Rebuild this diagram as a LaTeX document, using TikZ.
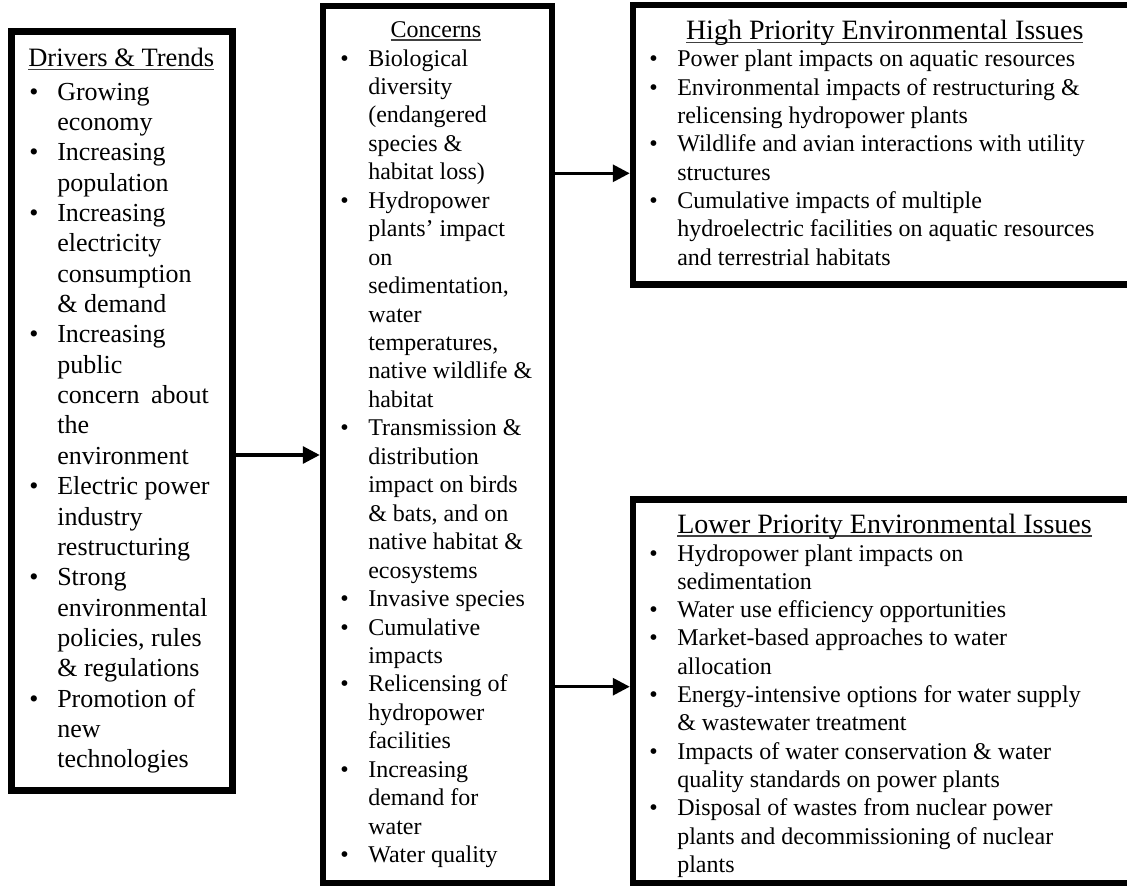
\documentclass[tikz,border=0pt]{standalone}
\usepackage{fontspec}
\setmainfont{Liberation Serif}
\usetikzlibrary{arrows.meta}
\newsavebox{\ulsave}
\newcommand{\ulhead}[1]{\sbox{\ulsave}{#1}\rlap{\color{black!75}\rule[-3.6pt]{\wd\ulsave}{1.5pt}}\usebox{\ulsave}}
\newcommand{\bl}{\makebox[28pt][l]{•}}
\newcommand{\fA}{\fontsize{26pt}{30.36pt}\selectfont}
\newcommand{\fAh}{\fontsize{26.5pt}{30pt}\selectfont}
\newcommand{\fB}{\fontsize{24pt}{28.45pt}\selectfont}
\newcommand{\fC}{\fontsize{24pt}{28.33pt}\selectfont}
\newcommand{\fH}{\fontsize{28pt}{32pt}\selectfont}
\tikzset{
  box/.style={draw=black, line width=6.5pt, rectangle, inner sep=0pt, fill=white},
  txt/.style={inner sep=0pt, outer sep=0pt, anchor=base west},
  ttl/.style={inner sep=0pt, outer sep=0pt},
  arr/.style={line width=3.2pt, -{Triangle[length=17pt,width=17pt]}},
}
\begin{document}
\begin{tikzpicture}[x=1pt,y=-1pt]
\useasboundingbox (0,0) rectangle (1127,886);
\clip (0,0) rectangle (1127,886);
\fill[white] (0,0) rectangle (1127,886);

% boxes
\node[box, minimum width=221pt, minimum height=759pt] (drivers) at (121.8,410.8) {};
\node[box, minimum width=229pt, minimum height=877pt] (concerns) at (437.5,444.5) {};
\node[box, minimum width=510pt, minimum height=279.7pt] (high) at (888,144.85) {};
\node[box, minimum width=510pt, minimum height=384pt] (low) at (888,691.5) {};

% drivers text
\node[ttl, anchor=base west, font=\fAh] (drivtitle) at (28.3,66.5) {\ulhead{Drivers \& Trends}};
\node[txt, font=\fA] (drivlist) at (29.3,100) {\begin{tabular}[t]{@{}l@{}l@{}}
\bl & Growing\\
 & economy\\
\bl & Increasing\\
 & population\\
\bl & Increasing\\
 & electricity\\
 & consumption\\
 & \& demand\\
\bl & Increasing\\
 & public\\
 & concern\hspace{5pt} about\\
 & the\\
 & environment\\
\bl & Electric power\\
 & industry\\
 & restructuring\\
\bl & Strong\\
 & environmental\\
 & policies, rules\\
 & \& regulations\\
\bl & Promotion of\\
 & new\\
 & technologies
\end{tabular}};

% concerns text
\node[ttl, anchor=base, font=\fB] (conctitle) at (436,37) {\ulhead{Concerns}};
\node[txt, font=\fB] (conclist) at (340.3,66) {\begin{tabular}[t]{@{}l@{}l@{}}
\bl & Biological\\
 & diversity\\
 & (endangered\\
 & species \&\\
 & habitat loss)\\
\bl & Hydropower\\
 & plants’ impact\\
 & on\\
 & sedimentation,\\
 & water\\
 & temperatures,\\
 & native wildlife \&\\
 & habitat\\
\bl & Transmission \&\\
 & distribution\\
 & impact on birds\\
 & \& bats, and on\\
 & native habitat \&\\
 & ecosystems\\
\bl & Invasive species\\
\bl & Cumulative\\
 & impacts\\
\bl & Relicensing of\\
 & hydropower\\
 & facilities\\
\bl & Increasing\\
 & demand for\\
 & water\\
\bl & Water quality
\end{tabular}};

% high priority text
\node[ttl, anchor=base west, font=\fH] (hightitle) at (686,39.5) {\ulhead{High Priority Environmental Issues}};
\node[txt, font=\fC] (highlist) at (649.3,66.7) {\begin{tabular}[t]{@{}l@{}l@{}}
\bl & Power plant impacts on aquatic resources\\
\bl & Environmental impacts of restructuring \&\\
 & relicensing hydropower plants\\
\bl & Wildlife and avian interactions with utility\\
 & structures\\
\bl & Cumulative impacts of multiple\\
 & hydroelectric facilities on aquatic resources\\
 & and terrestrial habitats
\end{tabular}};

% lower priority text
\node[ttl, anchor=base west, font=\fH] (lowtitle) at (677.3,533) {\ulhead{Lower Priority Environmental Issues}};
\node[txt, font=\fC] (lowlist) at (649.3,561) {\begin{tabular}[t]{@{}l@{}l@{}}
\bl & Hydropower plant impacts on\\
 & sedimentation\\
\bl & Water use efficiency opportunities\\
\bl & Market-based approaches to water\\
 & allocation\\
\bl & Energy-intensive options for water supply\\
 & \& wastewater treatment\\
\bl & Impacts of water conservation \& water\\
 & quality standards on power plants\\
\bl & Disposal of wastes from nuclear power\\
 & plants and decommissioning of nuclear\\
 & plants
\end{tabular}};

% connectors
\coordinate (ya) at (0,455);
\coordinate (yb) at (0,173.3);
\coordinate (yc) at (0,686.7);
\draw[arr] (drivers.east |- ya) -- (concerns.west |- ya);
\draw[arr] (concerns.east |- yb) -- (high.west |- yb);
\draw[arr] (concerns.east |- yc) -- (low.west |- yc);
\end{tikzpicture}
\end{document}
